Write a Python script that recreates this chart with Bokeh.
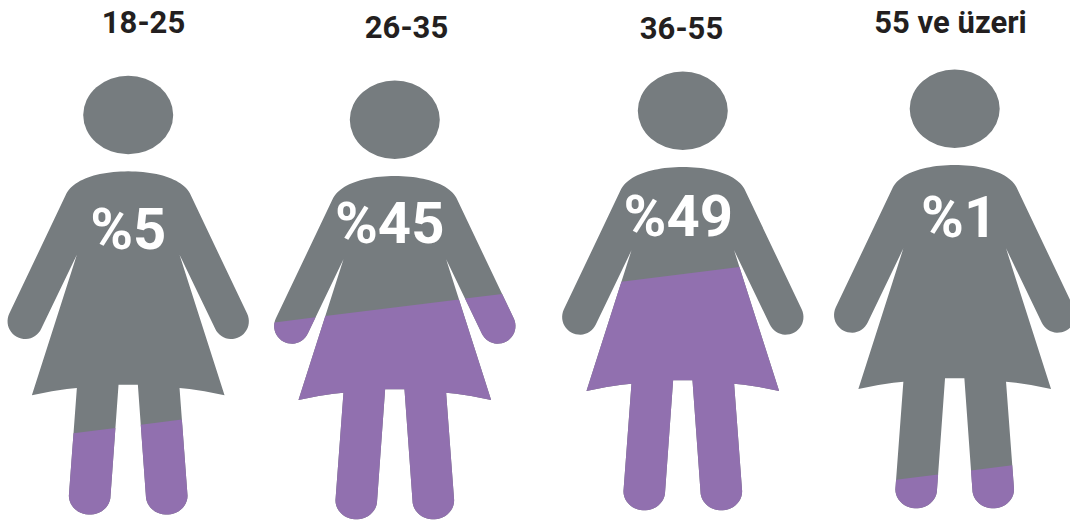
import numpy as np
from bokeh.plotting import figure
from bokeh.models import Range1d
from bokeh.core.properties import value
from bokeh.embed import file_html
from bokeh.resources import INLINE

# --- data ---
age_groups = ["18-25", "26-35", "36-55", "55 ve üzeri"]
shares = [5, 45, 49, 1]
# height of the coloured level below each head's centre, as drawn in the picture
fill_levels = [311.3, 187.7, 163.4, 363.8]
# in the third figure the arms stay grey although the level crosses them
arms_coloured = [True, True, False, True]

# --- layout ---
W, H = 1070, 523
head_x = [127.7, 394.3, 682.3, 954.2]
head_y = [114.5, 119.2, 110.2, 108.2]
title_x = [143, 406, 681, 950]
title_y = [21.5, 26.5, 27, 21.5]
share_x = [127.8, 389.2, 677.8, 958.7]
share_y = [228, 222, 215.5, 216.3]
GREY, PURPLE, INK = "#767C7F", "#9170AF", "#231F20"
TILT = 0.125


def arc(cx, cy, rx, ry, a0, a1, n=24):
    t = np.radians(np.linspace(a0, a1, n))
    return np.column_stack([cx + rx * np.cos(t), cy + ry * np.sin(t)])


def bezier(p0, c1, c2, p3, n=24):
    t = np.linspace(0, 1, n)[:, None]
    p0, c1, c2, p3 = map(np.array, (p0, c1, c2, p3))
    return (1 - t) ** 3 * p0 + 3 * (1 - t) ** 2 * t * c1 + 3 * (1 - t) * t ** 2 * c2 + t ** 3 * p3


# right half of the pictogram (its own drawing units), left half is its mirror
right_half = np.vstack([
    bezier((383, 332), (470, 332), (545, 355), (568, 398)),
    arc(692, 782, 53, 53, -25, 155),
    [[537, 582], [672, 1004]],
    bezier((672, 1004), (627, 994), (582, 986), (537, 982), 10),
    [[561, 1305]],
    arc(498.5, 1305, 62.5, 57, 0, 180),
    [[412, 972]],
])
left_half = right_half[::-1].copy()
left_half[:, 0] = 2 * 383 - left_half[:, 0]
outline = np.vstack([right_half, left_half])
outline = (outline - [383, 163]) / 3.0


def area(ring):
    x, y = ring[:, 0], ring[:, 1]
    return abs(np.dot(x, np.roll(y, -1)) - np.dot(y, np.roll(x, -1))) / 2


def clip_below(poly, level):
    """Rings of the outline under a tilted line through (0, level)."""
    d = poly[:, 1] - (level - TILT * poly[:, 0])
    n = len(poly)
    # runs of the outline below the line, each with its entry and exit point
    runs, current = [], None
    start = next(i for i in range(n) if d[i] < 0)
    for k in range(n):
        i, j = (start + k) % n, (start + k + 1) % n
        if d[i] >= 0:
            current.append(poly[i])
        if (d[i] >= 0) != (d[j] >= 0):
            cross = poly[i] + (poly[j] - poly[i]) * d[i] / (d[i] - d[j])
            if d[i] < 0:
                current = [cross]
            else:
                current.append(cross)
                runs.append(np.array(current))
    # crossings pair up along the line; a run's exit continues at its partner
    ends = [(r[0][0], idx, "in") for idx, r in enumerate(runs)] + \
           [(r[-1][0], idx, "out") for idx, r in enumerate(runs)]
    ends.sort()
    partner = {}
    for a, b in zip(ends[::2], ends[1::2]):
        partner[a[1:]] = b[1:]
        partner[b[1:]] = a[1:]
    rings, seen = [], set()
    for idx in range(len(runs)):
        if idx in seen:
            continue
        parts, cur = [], idx
        while cur not in seen:
            seen.add(cur)
            parts.append(runs[cur])
            cur = partner[(cur, "out")][0]
        rings.append(np.vstack(parts))
    return rings


p = figure(width=W, height=H, x_range=Range1d(0, W), y_range=Range1d(H, 0),
           x_axis_type=None, y_axis_type=None, toolbar_location=None,
           output_backend="svg", min_border=0, outline_line_color=None,
           background_fill_color="white", border_fill_color="white",
           styles={"position": "absolute", "left": "0px", "top": "0px"})
p.grid.visible = False

p.ellipse(x=head_x, y=head_y, width=90, height=78.6, fill_color=GREY, line_color=None)

bx = [list(outline[:, 0] + x) for x in head_x]
by = [list(outline[:, 1] + y) for y in head_y]
p.patches(bx, by, fill_color=GREY, line_color=None)

fx, fy = [], []
for level, arms, x0, y0 in zip(fill_levels, arms_coloured, head_x, head_y):
    rings = clip_below(outline, level)
    if not arms:
        rings = [max(rings, key=area)]
    for r in rings:
        fx.append(list(r[:, 0] + x0))
        fy.append(list(r[:, 1] + y0))
p.patches(fx, fy, fill_color=PURPLE, line_color=None)

p.text(x=title_x, y=title_y, text=age_groups, text_font=value("Roboto"),
       text_font_style="bold", text_font_size="31px", text_color=INK,
       text_align="center", text_baseline="middle")

p.text(x=share_x, y=share_y, text=[f"%{s}" for s in shares],
       text_font=value("Roboto"), text_font_style="bold",
       text_font_size="58px", text_color="white",
       text_align="center", text_baseline="middle")

open("out.html", "w").write(file_html(p, INLINE))
